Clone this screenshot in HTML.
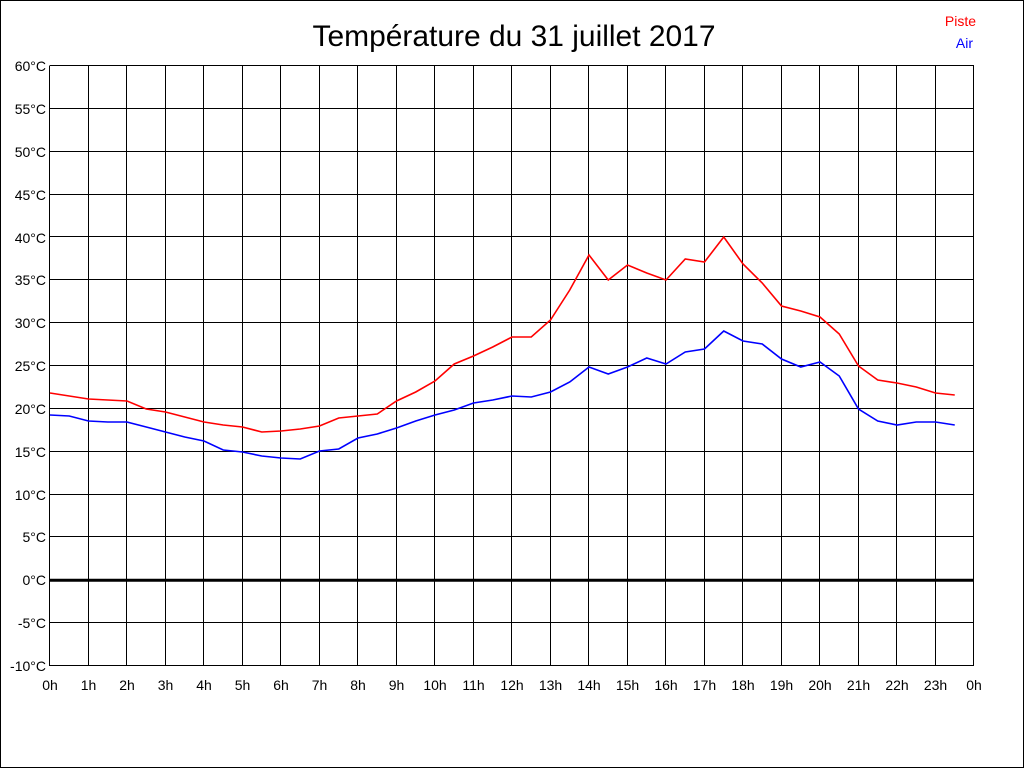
<!DOCTYPE html>
<html><head><meta charset="utf-8"><style>
html,body{margin:0;padding:0;background:#fff}
svg{display:block}
text{font-family:"Liberation Sans",Arial,sans-serif;font-size:14px;fill:#000}
</style></head><body>
<svg id="s" width="1024" height="768" xmlns="http://www.w3.org/2000/svg">
<rect x="0.5" y="0.5" width="1023" height="767" fill="#fff" stroke="#000"/>
<g id="grid" stroke="#000" stroke-width="1" shape-rendering="crispEdges"></g>
<line x1="50" y1="580.3" x2="974" y2="580.3" stroke="#000" stroke-width="3"/>
<polyline id="red" fill="none" stroke="#f00" stroke-width="1.6"/>
<polyline id="blue" fill="none" stroke="#00f" stroke-width="1.6"/>
<text x="514" y="46" text-anchor="middle" style="font-size:30px" textLength="403" lengthAdjust="spacingAndGlyphs">Température du 31 juillet 2017</text>
<text x="976" y="26" text-anchor="end" style="fill:#f00">Piste</text>
<text x="973" y="48" text-anchor="end" style="fill:#00f">Air</text>
<g text-anchor="end">
<text x="46" y="71">60°C</text><text x="46" y="114">55°C</text><text x="46" y="157">50°C</text>
<text x="46" y="200">45°C</text><text x="46" y="243">40°C</text><text x="46" y="285">35°C</text>
<text x="46" y="328">30°C</text><text x="46" y="371">25°C</text><text x="46" y="414">20°C</text>
<text x="46" y="457">15°C</text><text x="46" y="500">10°C</text><text x="46" y="542">5°C</text>
<text x="46" y="585">0°C</text><text x="46" y="628">-5°C</text><text x="46" y="671">-10°C</text>
</g>
<g text-anchor="middle">
<text x="50" y="690">0h</text><text x="88.5" y="690">1h</text><text x="127" y="690">2h</text>
<text x="165.5" y="690">3h</text><text x="204" y="690">4h</text><text x="242.5" y="690">5h</text>
<text x="281" y="690">6h</text><text x="319.5" y="690">7h</text><text x="358" y="690">8h</text>
<text x="396.5" y="690">9h</text><text x="435" y="690">10h</text><text x="473.5" y="690">11h</text>
<text x="512" y="690">12h</text><text x="550.5" y="690">13h</text><text x="589" y="690">14h</text>
<text x="627.5" y="690">15h</text><text x="666" y="690">16h</text><text x="704.5" y="690">17h</text>
<text x="743" y="690">18h</text><text x="781.5" y="690">19h</text><text x="820" y="690">20h</text>
<text x="858.5" y="690">21h</text><text x="897" y="690">22h</text><text x="935.5" y="690">23h</text>
<text x="974" y="690">0h</text>
</g>
</svg>
<script>
var g=document.getElementById('grid'),ns='http://www.w3.org/2000/svg';
function ln(a,b,c,d){var l=document.createElementNS(ns,'line');l.setAttribute('x1',a);l.setAttribute('y1',b);l.setAttribute('x2',c);l.setAttribute('y2',d);g.appendChild(l);}
for(var i=0;i<=24;i++){var x=Math.round(50+38.5*i)-0.5;ln(x,66,x,666);}
for(var j=0;j<=14;j++){var y=Math.round(66+600*j/14)-0.5;ln(49.5,y,974,y);}
var R=[393,396,399,400,401,409,412,417,422,425,427,432,431,429,426,418,416,414,401,392,381,364,356,347,337,337,320,290,255,280,265,273,280,259,262,237,264,283,306,311,317,334,366,380,383,387,393,395];
var B=[415,416,421,422,422,427,432,437,441,450,452,456,458,459,451,449,438,434,428,421,415,410,403,400,396,397,392,382,367,374,367,358,364,352,349,331,341,344,359,367,362,376,409,421,425,422,422,425];
function pts(a){return a.map(function(v,i){return (50+19.25*i)+','+v}).join(' ');}
document.getElementById('red').setAttribute('points',pts(R));
document.getElementById('blue').setAttribute('points',pts(B));
</script>
</body></html>
